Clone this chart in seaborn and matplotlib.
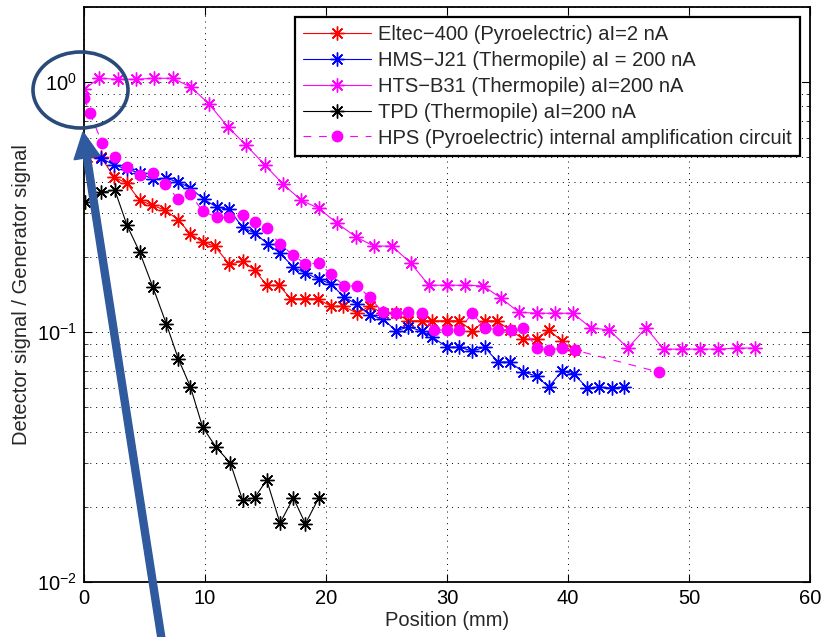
import matplotlib
matplotlib.use("Agg")
import matplotlib.pyplot as plt
import seaborn as sns
import pandas as pd
from matplotlib.patches import Ellipse, FancyArrow
from matplotlib.ticker import LogLocator, FixedLocator, NullFormatter, LogFormatterMathtext

# ---------------- data ----------------
labels = [
    "Eltec\u2212400 (Pyroelectric) aI=2 nA",
    "HMS\u2212J21 (Thermopile) aI = 200 nA",
    "HTS\u2212B31 (Thermopile) aI=200 nA",
    "TPD (Thermopile) aI=200 nA",
    "HPS (Pyroelectric) internal amplification circuit",
]

eltec_x = [0.25, 1.4, 2.5, 3.55, 4.6, 5.6, 6.7, 7.8, 8.8, 9.8, 10.8, 12.0, 13.1, 14.1, 15.1,
           16.1, 17.1, 18.3, 19.3, 20.4, 21.4, 22.6, 23.6, 24.7, 25.8, 26.8, 27.9, 28.8, 30.0,
           31.0, 32.1, 33.1, 34.1, 35.2, 36.3, 37.4, 38.4, 39.5, 40.5]
eltec_y = [0.501, 0.501, 0.417, 0.394, 0.337, 0.322, 0.308, 0.281, 0.247, 0.229,
           0.221, 0.187, 0.192, 0.177, 0.154, 0.154, 0.136, 0.136, 0.136, 0.127,
           0.127, 0.119, 0.127, 0.119, 0.119, 0.111, 0.111, 0.111, 0.111, 0.111,
           0.101, 0.111, 0.111, 0.102, 0.0938, 0.0938, 0.102, 0.092, 0.0847]

hms_x = [0.1, 1.4, 2.5, 3.55, 4.6, 5.7, 6.8, 7.8, 8.8, 9.9, 11.0, 12.0, 13.1, 14.1, 15.2,
         16.2, 17.3, 18.3, 19.4, 20.4, 21.5, 22.6, 23.6, 24.7, 25.8, 26.8, 27.9, 28.8, 30.0,
         31.0, 32.1, 33.1, 34.2, 35.2, 36.3, 37.4, 38.4, 39.5, 40.5, 41.6, 42.6, 43.6, 44.6]
hms_y = [0.520, 0.497, 0.466, 0.449, 0.433, 0.409, 0.413, 0.398, 0.377, 0.340,
         0.316, 0.310, 0.263, 0.249, 0.225, 0.207, 0.182, 0.172, 0.163, 0.156,
         0.138, 0.129, 0.117, 0.113, 0.101, 0.105, 0.101, 0.0955, 0.0871, 0.0871,
         0.0839, 0.0871, 0.0759, 0.0759, 0.0692, 0.0667, 0.0603, 0.0698, 0.0679, 0.0597,
         0.0603, 0.0597, 0.0603]

hts_x = [0.0, 1.25, 2.8, 4.3, 5.8, 7.35, 8.85, 10.35, 11.9, 13.4, 14.95, 16.45, 17.95, 19.4,
         20.9, 22.5, 23.95, 25.45, 27.0, 28.5, 30.0, 31.5, 33.0, 34.45, 35.95, 37.45, 38.9,
         40.4, 41.9, 43.4, 44.95, 46.45, 47.9, 49.4, 50.9, 52.4, 53.95, 55.45]
hts_y = [0.937, 1.037, 1.028, 1.028, 1.037, 1.037, 0.955, 0.817, 0.661, 0.560,
         0.466, 0.391, 0.337, 0.313, 0.273, 0.240, 0.221, 0.221, 0.189, 0.154,
         0.154, 0.154, 0.153, 0.137, 0.120, 0.119, 0.119, 0.119, 0.104, 0.102,
         0.0863, 0.104, 0.0855, 0.0855, 0.0855, 0.0855, 0.0863, 0.0863]

tpd_x = [0.1, 1.4, 2.55, 3.55, 4.6, 5.7, 6.8, 7.8, 8.8, 9.8, 10.9, 12.1, 13.1, 14.1, 15.1,
         16.2, 17.3, 18.3, 19.4]
tpd_y = [0.331, 0.363, 0.370, 0.268, 0.209, 0.151, 0.108, 0.078, 0.0603, 0.0417, 0.0347,
         0.0299, 0.0213, 0.0217, 0.0256, 0.0172, 0.0217, 0.0171, 0.0217]

hps_x = [0.0, 0.5, 1.5, 2.55, 3.55, 4.6, 5.7, 6.7, 7.8, 8.8, 9.8, 11.0, 12.0, 13.1, 14.1,
         15.1, 16.2, 17.3, 18.3, 19.4, 20.4, 21.5, 22.6, 23.6, 24.7, 25.8, 26.8, 27.9, 28.9,
         30.0, 31.0, 32.1, 33.1, 34.2, 35.3, 36.3, 37.4, 38.4, 39.5, 40.6, 47.5]
hps_y = [0.863, 0.752, 0.570, 0.501, 0.457, 0.425, 0.433, 0.391, 0.340, 0.356,
         0.305, 0.288, 0.288, 0.294, 0.275, 0.261, 0.225, 0.203, 0.187, 0.189,
         0.171, 0.153, 0.153, 0.138, 0.120, 0.119, 0.120, 0.119, 0.102, 0.102,
         0.102, 0.119, 0.104, 0.102, 0.102, 0.104, 0.0863, 0.0847, 0.0863, 0.0847,
         0.0692]

x_ticks = [0, 10, 20, 30, 40, 50, 60]

# ---------------- style ----------------
sns.set_style("ticks")
plt.rcParams["font.family"] = ["Liberation Sans", "DejaVu Sans"]
plt.rcParams["mathtext.fontset"] = "custom"
plt.rcParams["mathtext.rm"] = "Liberation Sans"
plt.rcParams["mathtext.it"] = "Liberation Sans:italic"
plt.rcParams["mathtext.bf"] = "Liberation Sans:bold"

FS = 14.5

fig = plt.figure(figsize=(8.25, 6.37), dpi=100)
ax = fig.add_axes([84 / 825, 55 / 637, 726 / 825, 575 / 637])
ax.set_yscale("log")

star = (8, 2, 0)
series = [
    (labels[0], eltec_x, eltec_y, "#ff0000", star, 10, "-"),
    (labels[1], hms_x, hms_y, "#0000ff", star, 10, "-"),
    (labels[2], hts_x, hts_y, "#ff00ff", star, 10, "-"),
    (labels[3], tpd_x, tpd_y, "#000000", star, 10, "-"),
    (labels[4], hps_x, hps_y, "#ff00ff", "o", 7.5, (0, (7, 7))),
]

for lab, xs, ys, col, mk, ms, ls in series:
    df = pd.DataFrame({"x": xs, "y": ys})
    sns.lineplot(data=df, x="x", y="y", ax=ax, color=col, marker=mk, markersize=ms,
                 markeredgewidth=1.0, markeredgecolor=col, markerfacecolor=col,
                 linewidth=0.8, linestyle=ls, label=lab, estimator=None, sort=False)

ax.set_xlim(0, 60)
ax.set_ylim(0.01, 2)
ax.xaxis.set_major_locator(FixedLocator(x_ticks))
ax.yaxis.set_major_locator(LogLocator(base=10, numticks=10))
ax.yaxis.set_minor_locator(LogLocator(base=10, subs=range(2, 10), numticks=10))
ax.yaxis.set_major_formatter(LogFormatterMathtext())
ax.yaxis.set_minor_formatter(NullFormatter())

dot = (0, (1, 5))
ax.grid(True, which="major", axis="both", color="k", linestyle=dot, linewidth=0.7)
ax.grid(True, which="minor", axis="y", color="k", linestyle=dot, linewidth=0.7)

ax.tick_params(axis="both", which="major", direction="in", top=True, right=True,
               length=6, width=0.8, labelsize=FS, pad=5, colors="k")
ax.tick_params(axis="y", which="minor", direction="in", left=True, right=True,
               length=3, width=0.6)
ax.tick_params(axis="x", which="minor", bottom=False, top=False)
for sp in ax.spines.values():
    sp.set_visible(True)
    sp.set_color("k")
    sp.set_linewidth(1.3)

ax.set_xlabel("Position (mm)", fontsize=FS, labelpad=2)
ax.set_ylabel("Detector signal / Generator signal", fontsize=FS, labelpad=4)

leg = ax.legend(loc="upper right", frameon=True, fancybox=False, edgecolor="k",
                framealpha=1, fontsize=FS, handlelength=3.4, labelspacing=0.34,
                handletextpad=0.35, borderpad=0.4, borderaxespad=0.5, numpoints=1)
leg.get_frame().set_linewidth(1.6)

# annotation: ellipse around 10^0 and big arrow
ell = Ellipse((0.805, 5.47), 0.95, 0.76, transform=fig.dpi_scale_trans,
              facecolor="none", edgecolor="#2a4a7a", linewidth=2.6, zorder=20)
fig.add_artist(ell)
arr = FancyArrow(1.62, -0.05, 0.83 - 1.62, 5.05 + 0.05, width=0.07, head_width=0.26,
                 head_length=0.26, length_includes_head=True,
                 transform=fig.dpi_scale_trans, color="#2f5a9e", zorder=21)
fig.add_artist(arr)

fig.savefig("out.png", dpi=100)
